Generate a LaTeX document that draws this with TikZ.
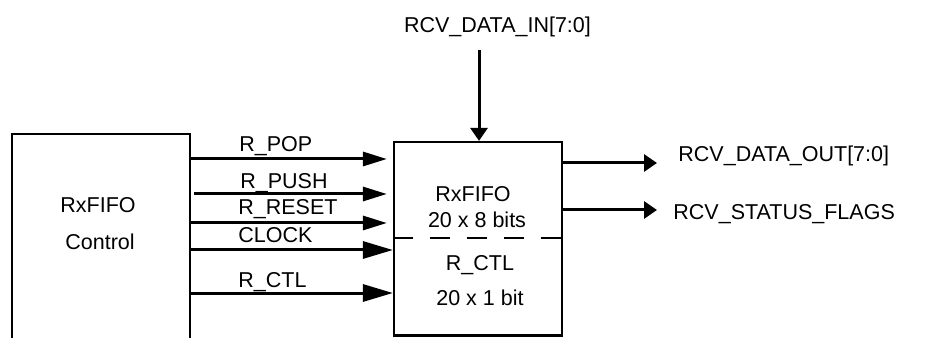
\documentclass[tikz,border=0pt]{standalone}
\usepackage{fontspec}
\setmainfont{Liberation Sans}
\usetikzlibrary{arrows.meta, positioning}
\tikzset{
  bloc/.style={rectangle, draw=black, line width=1.1pt, inner sep=0pt},
  etiq/.style={font=\fontsize{10.75}{13}\selectfont, inner sep=0pt},
  signal/.style={-{Triangle[length=12pt, width=7pt]}, line width=1.5pt},
  signalfort/.style={-{Triangle[length=15pt, width=8.5pt]}, line width=1.5pt},
  sortie/.style={-{Triangle[length=6.5pt, width=8.5pt]}, line width=1.5pt},
  separation/.style={line width=1.1pt, dash pattern=on 10pt off 8.5pt}
}

\begin{document}
\begin{tikzpicture}[x=0.5pt, y=0.5pt]
    \path[use as bounding box, clip] (0,0) rectangle (935,337);

    % Bloc de controle (ouvert vers le bas)
    \node[bloc, minimum width=89pt, minimum height=111.5pt] (ctl) at (101,91.5) {};
    \node[etiq, anchor=base] (ctlnom) at (98,124) {RxFIFO};
    \node[etiq, anchor=base] (ctlsous) at (100,87) {Control};

    % FIFO
    \node[bloc, minimum width=84pt, minimum height=96.75pt] (fifo) at (478,98.25) {};
    \node[etiq, anchor=base] (mem1) at (473,135) {RxFIFO};
    \node[etiq, anchor=base] (mem2) at (477,109) {20 x 8 bits};
    \node[etiq, anchor=base] (rctl1) at (480,67) {R\_CTL};
    \node[etiq, anchor=base] (rctl2) at (480,32) {20 x 1 bit};
    \coordinate (sep) at (0,99);
    \draw[separation] (fifo.west |- sep) -- (fifo.east |- sep);

    % Signaux de commande
    \coordinate (pop) at (0,178);
    \coordinate (push) at (0,143);
    \coordinate (rst) at (0,114);
    \coordinate (clk) at (0,87);
    \coordinate (rc) at (0,44);
    \node[etiq, anchor=base west] (lpop) at (239,185) {R\_POP};
    \node[etiq, anchor=base west] (lpush) at (240,148) {R\_PUSH};
    \node[etiq, anchor=base west] (lrst) at (238,122) {R\_RESET};
    \node[etiq, anchor=base west] (lclk) at (238,94) {CLOCK};
    \node[etiq, anchor=base west] (lrc) at (238,50) {R\_CTL};
    \draw[signal, shorten >=3pt] (ctl.east |- pop) -- (fifo.west |- pop);
    \draw[signal, shorten >=3pt, shorten <=1.5pt] (ctl.east |- push) -- (fifo.west |- push);
    \draw[signal, shorten >=3pt] (ctl.east |- rst) -- (fifo.west |- rst);
    \draw[signalfort] (ctl.east |- clk) -- (fifo.west |- clk);
    \draw[signalfort] (ctl.east |- rc) -- (fifo.west |- rc);

    % Entree de donnees
    \coordinate (din) at (479,287);
    \node[etiq, anchor=base] (ldin) at (497.5,304) {RCV\_DATA\_IN[7:0]};
    \draw[sortie] (din) -- (din |- fifo.north);

    % Sorties
    \coordinate (dout) at (657,174);
    \coordinate (flags) at (657,127);
    \draw[sortie] (fifo.east |- dout) -- (dout);
    \draw[sortie] (fifo.east |- flags) -- (flags);
    \node[etiq, anchor=base west] (ldout) at (678,175) {RCV\_DATA\_OUT[7:0]};
    \node[etiq, anchor=base west] (lflags) at (673,117) {RCV\_STATUS\_FLAGS};
\end{tikzpicture}
\end{document}
